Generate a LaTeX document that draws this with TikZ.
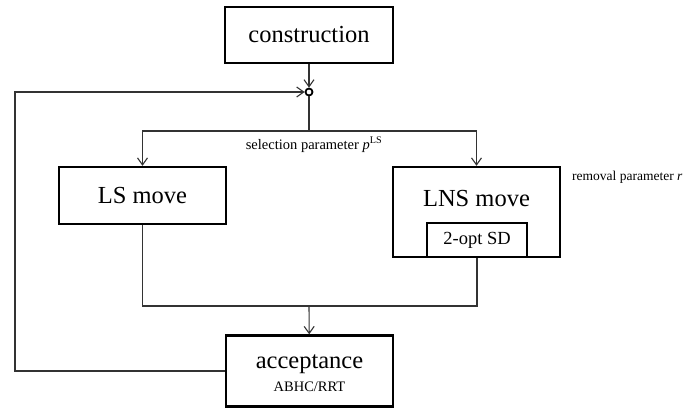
\documentclass[tikz,border=0pt]{standalone}
\usepackage{fontspec}
\setmainfont{Liberation Serif}
\usetikzlibrary{arrows.meta}
\begin{document}
\begin{tikzpicture}[x=1pt,y=-1pt,
  box/.style={draw, line width=2.4pt, inner sep=0pt, anchor=center},
  bigtxt/.style={font=\fontsize{24.5}{28}\selectfont, inner sep=0pt},
  smalltxt/.style={font=\fontsize{14.5}{17}\selectfont, inner sep=0pt},
  conn/.style={line width=1.1pt, draw=black!80},
  arr/.style={conn, -{Straight Barb[length=7pt,width=10pt,line width=1.1pt]}}]
\useasboundingbox (0,0) rectangle (692,407);
% boxes
\node[box, bigtxt, minimum width=168pt, minimum height=56pt] (cons) at (309,35) {construction};
\node[box, bigtxt, minimum width=167pt, minimum height=57pt] (ls) at (142.5,195.5) {LS move};
\node[box, minimum width=167pt, minimum height=90pt] (lns) at (476.5,212) {};
\node[bigtxt] (lnstxt) at (476.5,199) {LNS move};
\node[box, font=\fontsize{18.5}{21}\selectfont, minimum width=100pt, minimum height=34pt] (opt) at (477,240) {2-opt SD};
\node[box, minimum width=167pt, minimum height=71pt] (acc) at (309.5,371) {};
\node[bigtxt] (acctxt) at (309.5,364) {acceptance};
\node[smalltxt] (abhc) at (309.5,387) {ABHC/RRT};
% junction
\node[circle, draw, line width=1.8pt, fill=white, inner sep=0pt, minimum size=7pt] (j) at (309,92) {};
% labels
\node[smalltxt, anchor=base] (sel) at (314,149) {selection parameter \textit{p}\textsuperscript{LS}};
\node[font=\fontsize{13.5}{16}\selectfont, inner sep=0pt, anchor=west] (rem) at (572,177) {removal parameter \textit{r}};
% coordinates
\coordinate (sp) at (309,131);
\coordinate (mg) at (309,306);
\coordinate (fb1) at (15,371);
\coordinate (fb2) at (15,92);
% connectors
\draw[arr] (cons) -- (j);
\draw[conn] (j) -- (sp);
\draw[arr] (sp) -| (ls);
\draw[arr] (sp) -| (lns);
\draw[conn] (ls) |- (mg);
\draw[conn] (opt) |- (mg);
\draw[arr] (mg) -- (acc);
\draw[arr] (acc.west) -- (fb1) -- (fb2) -- (j);
\end{tikzpicture}
\end{document}
